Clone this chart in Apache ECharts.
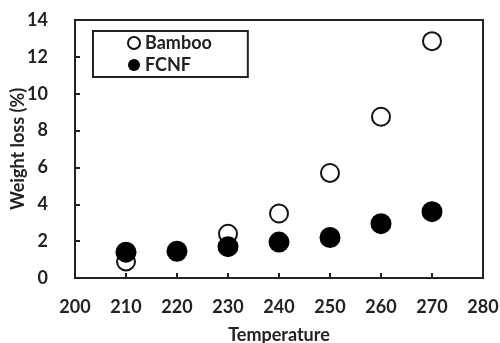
<!DOCTYPE html>
<html>
<head>
<meta charset="utf-8">
<script src="https://cdn.jsdelivr.net/npm/echarts@6/dist/echarts.min.js"></script>
<style>
  html, body { margin: 0; padding: 0; background: #fff; }
  #chart { width: 500px; height: 343px; }
</style>
</head>
<body>
<div id="chart"></div>
<script>
// temperatures (x) and weight loss (%)
const temperature = [210, 220, 230, 240, 250, 260, 270];
const bambooLoss = [0.9, null, 2.4, 3.5, 5.7, 8.75, 12.85];
const fcnfLoss = [1.4, 1.45, 1.7, 1.95, 2.2, 2.95, 3.6];

const toPairs = (ys) => temperature.map((t, i) => [t, ys[i]]).filter(p => p[1] !== null);

const font = 'Lato, "Open Sans", sans-serif';
const ink = '#222';
const chart = echarts.init(document.getElementById('chart'));

chart.setOption({
    animation: false,
    textStyle: { fontFamily: font },
    grid: {
        left: 75, right: 17, top: 20, bottom: 65,
        outerBoundsMode: 'none',
        containLabel: false,
        show: true,
        borderColor: ink,
        borderWidth: 2
    },
    legend: {
        orient: 'vertical',
        left: 93,
        top: 31,
        padding: [3, 36, 3, 34],
        itemGap: 4,
        itemWidth: 12,
        itemHeight: 12,
        borderColor: ink,
        borderWidth: 2,
        textStyle: { fontFamily: font, fontWeight: 'bold', fontSize: 18, color: ink },
        data: ['Bamboo', 'FCNF']
    },
    xAxis: {
        type: 'value',
        min: 200,
        max: 280,
        interval: 10,
        name: 'Temperature',
        nameLocation: 'middle',
        nameGap: 48,
        nameMoveOverlap: false,
        nameTextStyle: { fontFamily: font, fontWeight: 'bold', fontSize: 18, color: ink },
        axisLine: { lineStyle: { color: ink, width: 2 } },
        axisTick: { inside: true, length: 5, lineStyle: { color: ink, width: 2 } },
        axisLabel: { margin: 20, fontFamily: font, fontWeight: 'bold', fontSize: 18, color: ink },
        splitLine: { show: false }
    },
    yAxis: {
        type: 'value',
        min: 0,
        max: 14,
        interval: 2,
        name: 'Weight loss (%)',
        nameLocation: 'middle',
        nameGap: 48,
        nameMoveOverlap: false,
        nameTextStyle: { fontFamily: font, fontWeight: 'bold', fontSize: 18, color: ink },
        axisLine: { lineStyle: { color: ink, width: 2 } },
        axisTick: { inside: true, length: 5, lineStyle: { color: ink, width: 2 } },
        axisLabel: { margin: 27, fontFamily: font, fontWeight: 'bold', fontSize: 18, color: ink },
        splitLine: { show: false }
    },
    series: [
        {
            name: 'Bamboo',
            type: 'scatter',
            symbol: 'circle',
            symbolSize: 18,
            z: 2,
            itemStyle: { color: '#fff', borderColor: '#111', borderWidth: 2, opacity: 1 },
            data: toPairs(bambooLoss)
        },
        {
            name: 'FCNF',
            type: 'scatter',
            symbol: 'circle',
            symbolSize: 21,
            z: 3,
            itemStyle: { color: '#000', opacity: 1 },
            data: toPairs(fcnfLoss)
        }
    ]
});
</script>
</body>
</html>
